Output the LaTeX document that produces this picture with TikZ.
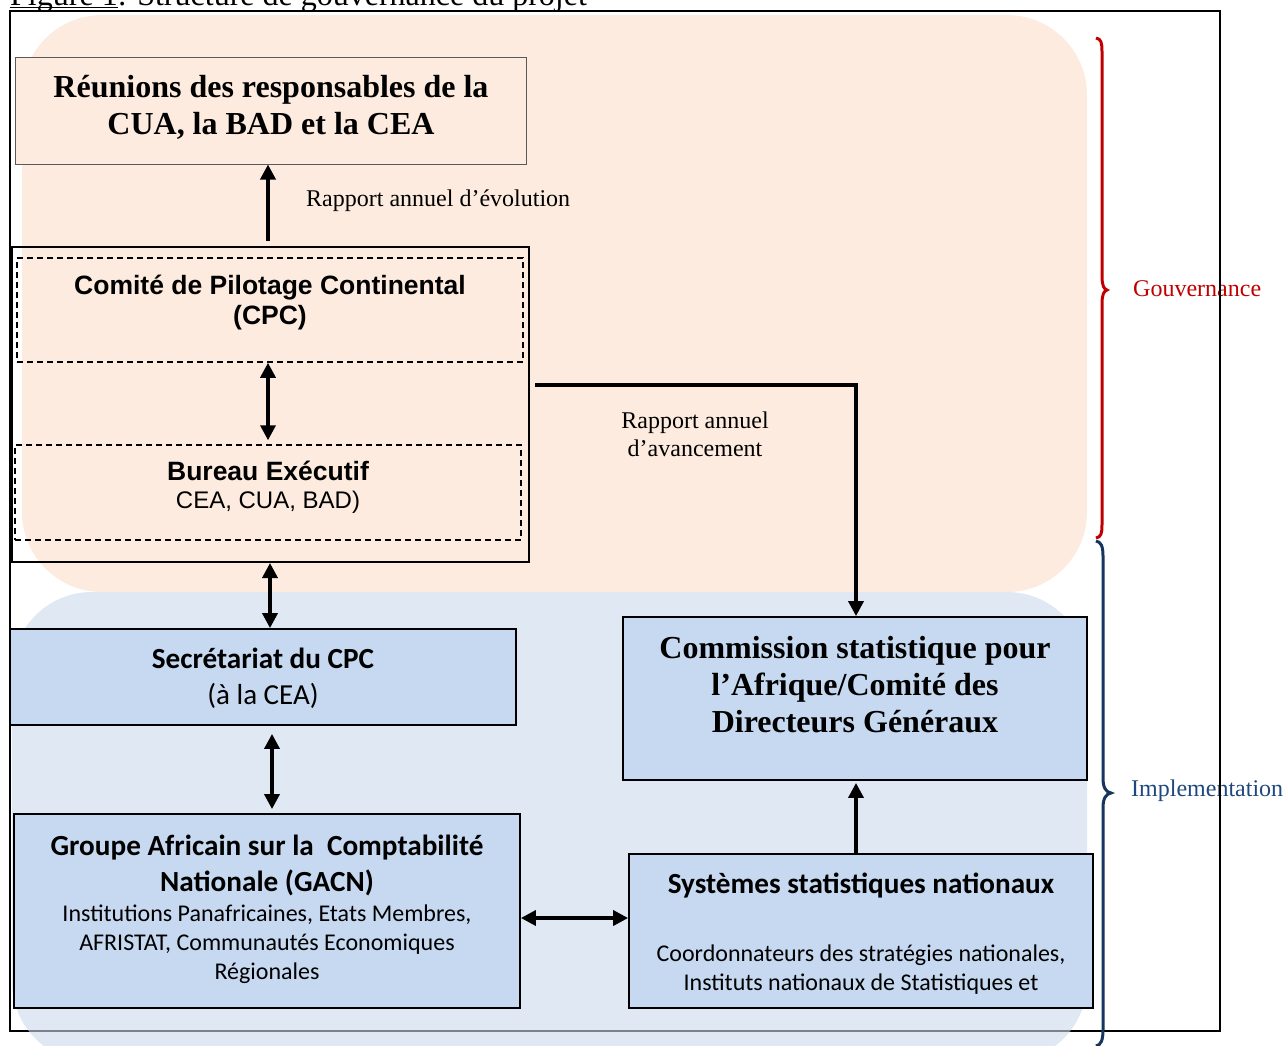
\documentclass[tikz,border=0pt]{standalone}
\usepackage{fontspec}
\setmainfont{Liberation Serif}
\newfontfamily\arialf{Liberation Sans}
\newfontfamily\calf{Carlito}
\usetikzlibrary{arrows.meta}
\definecolor{peach}{RGB}{252,235,222}
\definecolor{bluereg}{RGB}{203,217,235}
\definecolor{boxblue}{RGB}{198,217,240}
\definecolor{gred}{RGB}{192,0,0}
\definecolor{navy}{RGB}{23,54,93}
\definecolor{impl}{RGB}{31,73,125}
\begin{document}
\begin{tikzpicture}[x=1pt,y=-1pt,
  tip/.tip={Triangle[length=15pt,width=15pt]},
  arr/.style={line width=3.5pt,-tip},
  darr/.style={line width=3.5pt,tip-tip},
  reubox/.style={draw=black!65,line width=1pt,fill=peach,inner sep=0pt},
  outbox/.style={draw=black,line width=2pt,inner sep=0pt},
  dashbox/.style={draw=black,line width=1.5pt,dash pattern=on 6pt off 4pt,inner sep=0pt},
  bluebox/.style={draw=black,line width=1.8pt,fill=boxblue,inner sep=0pt},
  tb/.style={inner sep=0pt,align=center,font=\bfseries\fontsize{32}{37}\selectfont},
  tr/.style={inner sep=0pt,align=center,font=\fontsize{24}{28}\selectfont},
  ab/.style={inner sep=0pt,align=center,font=\arialf\bfseries\fontsize{26.5}{30}\selectfont},
  ar/.style={inner sep=0pt,align=center,font=\arialf\fontsize{24}{29}\selectfont},
  cb/.style={inner sep=0pt,align=center,font=\calf\bfseries\fontsize{29.2}{36}\selectfont},
  cr/.style={inner sep=0pt,align=center,font=\calf\fontsize{24}{29}\selectfont}]
\useasboundingbox (0,0) rectangle (1287,1045);
% caption (cut off by the page top)
\node[anchor=base west,inner sep=0pt,font=\fontsize{32}{37}\selectfont] (capt) at (10,5) {Figure 1: Structure de gouvernance du projet};
\draw[line width=1.5pt] (10,7.5) -- (118,7.5);
% outer frame
\draw[line width=2pt] (10,11) rectangle (1220,1031);
% background regions
\fill[peach,rounded corners=80pt] (22,15) rectangle (1087,592);
\fill[bluereg,fill opacity=0.6,rounded corners=80pt] (12,592) rectangle (1087,1062);
% boxes
\node[reubox,minimum width=511,minimum height=107] (reu) at (270.5,110.5) {};
\node[tb] (reut) at (271,107.5) {Réunions des responsables de la\\CUA, la BAD et la CEA};
\node[outbox,minimum width=517,minimum height=315] (cpc) at (270.5,404.5) {};
\node[dashbox,minimum width=506,minimum height=104] (cpcd) at (270,310) {};
\node[ab] (cpct) at (270,303) {Comité de Pilotage Continental\\(CPC)};
\node[dashbox,minimum width=506,minimum height=95] (bur) at (268,492.5) {};
\node[ab] (burt1) at (268,471) {Bureau Exécutif};
\node[ar] (burt2) at (268,502) {CEA, CUA, BAD)};
\node[bluebox,minimum width=506,minimum height=96] (sec) at (263,677) {};
\node[cb] (sect1) at (263,658) {Secrétariat du CPC};
\node[cr,font=\calf\fontsize{29}{36}\selectfont] (sect2) at (263,696) {(à la CEA)};
\node[bluebox,minimum width=506,minimum height=194] (gacn) at (267,911) {};
\node[cb] (gacnt1) at (267,865) {Groupe Africain sur la\ \ Comptabilité\\Nationale (GACN)};
\node[cr] (gacnt2) at (267,944) {Institutions Panafricaines, Etats Membres,\\AFRISTAT, Communautés Economiques\\Régionales};
\node[bluebox,minimum width=464,minimum height=154] (ssn) at (861,931) {};
\node[cb] (ssnt1) at (861,886) {Systèmes statistiques nationaux};
\node[cr] (ssnt2) at (861,969.5) {Coordonnateurs des stratégies nationales,\\Instituts nationaux de Statistiques et};
\node[bluebox,minimum width=464,minimum height=163] (csa) at (855,698.5) {};
\node[tb] (csat) at (855,685) {Commission statistique pour\\l’Afrique/Comité des\\Directeurs Généraux};
% labels
\node[tr,anchor=west] (rap1) at (306,201) {Rapport annuel d’évolution};
\node[tr] (rap2) at (695,434.5) {Rapport annuel\\d’avancement};
% connectors
\coordinate (x268) at (268,0);
\coordinate (x270) at (270,0);
\coordinate (x272) at (272,0);
\coordinate (x856) at (856,0);
\coordinate (y918) at (0,918);
\coordinate (k1) at (535,385);
\draw[arr,shorten <=5pt] (x268 |- cpc.north) -- (x268 |- reu.south);
\draw[darr,shorten >=4pt] (x268 |- cpcd.south) -- (x268 |- bur.north);
\draw[darr] (x270 |- cpc.south) -- (x270 |- sec.north);
\draw[darr,shorten <=8pt,shorten >=4pt] (x272 |- sec.south) -- (x272 |- gacn.north);
\draw[darr] (gacn.east |- y918) -- (ssn.west |- y918);
\draw[arr,shorten >=2pt] (x856 |- ssn.north) -- (x856 |- csa.south);
\draw[arr] (k1) -| (x856 |- csa.north);
% braces
\draw[gred,line width=3pt] (1096,38) .. controls (1101,39) and (1102,42) .. (1102,52) -- (1102,276) .. controls (1102,286) and (1104,289) .. (1107,290) .. controls (1104,291) and (1102,294) .. (1102,304) -- (1102,524) .. controls (1102,534) and (1101,537) .. (1096,538);
\draw[navy,line width=3pt] (1096,541) .. controls (1101,542) and (1103,546) .. (1103,556) -- (1103,778) .. controls (1103,788) and (1106,792) .. (1111,793) .. controls (1106,794) and (1103,798) .. (1103,808) -- (1103,1030) .. controls (1103,1040) and (1101,1045) .. (1096,1046);
\node[tr,anchor=west,text=gred] (gouv) at (1133,289) {Gouvernance};
\node[tr,anchor=west,text=impl] (implt) at (1131,791) {Implementation};
\draw[line width=2pt] (1220,11) -- (1220,1031);
\end{tikzpicture}
\end{document}
